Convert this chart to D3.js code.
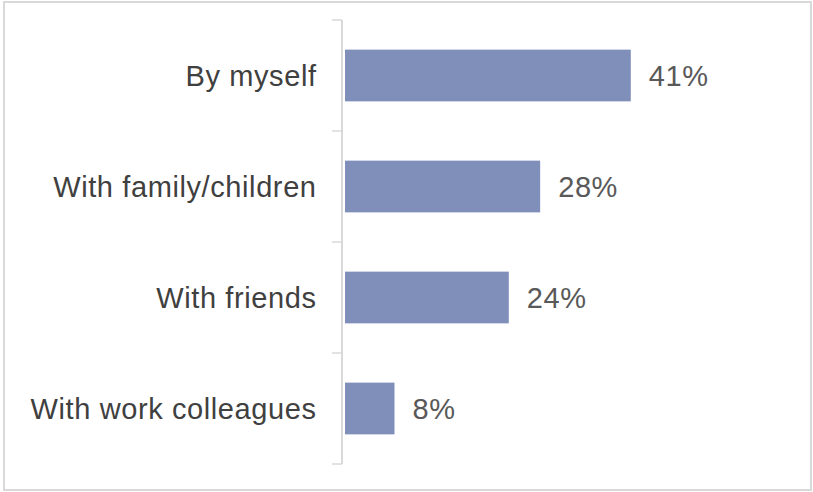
<!DOCTYPE html>
<html><head><meta charset="utf-8">
<script src="https://cdn.jsdelivr.net/npm/d3@7"></script>
<style>body{margin:0;background:#fff}svg{display:block}</style>
</head><body>
<svg id="c" width="813" height="492"></svg>
<script>
const categories = ["By myself", "With family/children", "With friends", "With work colleagues"];
const values = [41, 28, 23.5, 7.1];
const valueLabels = ["41%", "28%", "24%", "8%"];

const svg = d3.select("#c");
svg.append("rect").attr("x", 4).attr("y", 2).attr("width", 807).attr("height", 488)
  .attr("fill", "#fff").attr("stroke", "#d9d9d9").attr("stroke-width", 2);

const y = d3.scaleBand().domain(categories).range([20, 464]).paddingInner(0.534).paddingOuter(0.267);
const x = d3.scaleLinear().domain([0, 50]).range([345, 693.5]);

const axisX = 342;
svg.append("line").attr("x1", axisX).attr("x2", axisX).attr("y1", 20).attr("y2", 464)
  .attr("stroke", "#d9d9d9").attr("stroke-width", 2);
const step = y.step();
const bounds = d3.range(categories.length + 1).map(i => 20 + i * step);
svg.selectAll("line.tick").data(bounds).enter().append("line")
  .attr("x1", 332).attr("x2", axisX).attr("y1", d => d).attr("y2", d => d)
  .attr("stroke", "#d9d9d9").attr("stroke-width", 1.5);

svg.selectAll("rect.bar").data(values).enter().append("rect")
  .attr("x", x(0)).attr("y", (d, i) => y(categories[i]))
  .attr("width", d => x(d) - x(0)).attr("height", y.bandwidth())
  .attr("fill", "#7f8fb9");

svg.selectAll("text.cat").data(categories).enter().append("text")
  .attr("x", 316.6).attr("y", d => y(d) + y.bandwidth() / 2)
  .attr("dy", "0.35em").attr("text-anchor", "end")
  .attr("font-family", "Liberation Sans, Arial, sans-serif").attr("font-size", 29)
  .attr("letter-spacing", 0.6)
  .attr("fill", "#404040").text(d => d);

svg.selectAll("text.val").data(values).enter().append("text")
  .attr("x", d => x(d) + 18).attr("y", (d, i) => y(categories[i]) + y.bandwidth() / 2)
  .attr("dy", "0.35em")
  .attr("font-family", "Liberation Sans, Arial, sans-serif").attr("font-size", 29)
  .attr("letter-spacing", 0.6)
  .attr("fill", "#595959").text((d, i) => valueLabels[i]);
</script>
</body></html>
